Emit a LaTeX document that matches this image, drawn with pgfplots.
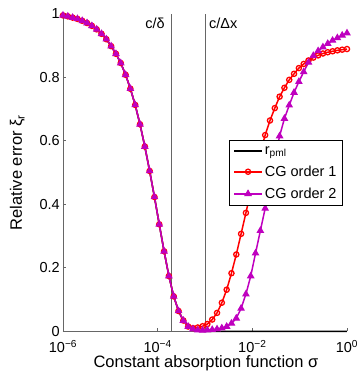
\documentclass[border=0pt]{standalone}
\usepackage{pgfplots}
\pgfplotsset{compat=1.18}
\usepackage{pgfplotstable}
\usepackage{fontspec}
\setmainfont{Liberation Sans}
\definecolor{mag}{rgb}{0.75,0,0.75}
\definecolor{axgray}{gray}{0.4}

\pgfplotstableread{
s r cg1 cg2
1.000e-6 0.995 0.995 0.995
1.264e-6 0.992 0.992 0.992
1.597e-6 0.988 0.988 0.988
2.019e-6 0.984 0.984 0.984
2.551e-6 0.978 0.978 0.978
3.225e-6 0.971 0.971 0.971
4.075e-6 0.962 0.962 0.962
5.151e-6 0.951 0.951 0.951
6.510e-6 0.937 0.937 0.937
8.228e-6 0.920 0.920 0.920
1.040e-5 0.898 0.898 0.898
1.314e-5 0.874 0.874 0.874
1.661e-5 0.845 0.845 0.845
2.099e-5 0.808 0.808 0.808
2.653e-5 0.764 0.764 0.764
3.353e-5 0.713 0.713 0.713
4.237e-5 0.652 0.652 0.652
5.356e-5 0.582 0.582 0.582
6.769e-5 0.505 0.505 0.505
8.555e-5 0.423 0.423 0.423
1.081e-4 0.337 0.337 0.337
1.367e-4 0.252 0.252 0.252
1.727e-4 0.174 0.174 0.174
2.183e-4 0.110 0.110 0.110
2.759e-4 0.064 0.064 0.064
3.487e-4 0.034 0.034 0.034
4.407e-4 0.015 0.015 0.015
5.570e-4 0.004 0.010 0.007
7.040e-4 0.001 0.012 0.004
8.896e-4 0.000 0.016 0.003
1.124e-3 0.000 0.023 0.004
1.421e-3 0.000 0.037 0.005
1.796e-3 0.000 0.058 0.007
2.270e-3 0.000 0.090 0.010
2.869e-3 0.000 0.131 0.015
3.626e-3 0.000 0.183 0.025
4.582e-3 0.000 0.242 0.041
5.791e-3 0.000 0.307 0.072
7.319e-3 0.000 0.373 0.117
9.250e-3 0.000 0.440 0.174
1.169e-2 0.000 0.503 0.246
1.478e-2 0.000 0.563 0.317
1.867e-2 0.000 0.618 0.387
2.360e-2 0.000 0.664 0.468
2.983e-2 0.000 0.703 0.545
3.770e-2 0.000 0.739 0.615
4.764e-2 0.000 0.767 0.670
6.021e-2 0.000 0.792 0.712
7.610e-2 0.000 0.811 0.752
9.618e-2 0.000 0.829 0.786
1.216e-1 0.000 0.842 0.817
1.536e-1 0.000 0.853 0.847
1.942e-1 0.000 0.862 0.868
2.454e-1 0.000 0.869 0.883
3.101e-1 0.000 0.875 0.895
3.920e-1 0.000 0.879 0.906
4.954e-1 0.000 0.882 0.916
6.261e-1 0.000 0.885 0.924
7.913e-1 0.000 0.887 0.932
1.000e0  0.000 0.889 0.939
}\data

\begin{document}
\begin{tikzpicture}[x=1pt,y=1pt]
\useasboundingbox (0,0) rectangle (360,372);
\begin{axis}[
  at={(63pt,40.7pt)}, anchor=south west,
  scale only axis, width=284pt, height=317.5pt,
  xmode=log, xmin=1e-6, xmax=1, ymin=0, ymax=1,
  clip=false,
  axis lines*=left,
  axis line style={draw=axgray, line width=0.9pt},
  xtick={1e-6,1e-4,1e-2,1},
  xticklabels={10\textsuperscript{−6},10\textsuperscript{−4},10\textsuperscript{−2},10\textsuperscript{0}},
  xminorticks=false,
  ytick={0,0.2,0.4,0.6,0.8,1},
  yticklabels={0,0.2,0.4,0.6,0.8,1},
  tick align=inside, major tick length=3.5pt,
  tick style={draw=axgray, line width=0.8pt},
  /pgf/number format/assume math mode=true,
  tick label style={font=\fontsize{14.5}{16}\selectfont},
  xticklabel style={anchor=base, yshift=-21.4pt, inner sep=0pt},
  yticklabel style={anchor=east, inner sep=0pt, xshift=-3pt},
  xlabel={Constant absorption function σ},
  ylabel={Relative error ξ\textsubscript{r}},
  label style={font=\fontsize{16.5}{18}\selectfont},
  xlabel style={at={(axis description cs:0.5035,-0.1146)}, anchor=base, inner sep=0pt},
  ylabel style={at={(axis description cs:-0.1444,0.5)}, anchor=base, inner sep=0pt},
  legend style={at={(axis description cs:0.986,0.6025)}, anchor=north east,
    draw=black, line width=0.9pt, fill=white, font=\fontsize{14.5}{16}\selectfont,
    cells={anchor=west}, inner xsep=4pt, inner ysep=4pt, row sep=6pt},
  legend image code/.code={\draw[line width=1.6pt, mark repeat=2, mark phase=2, #1] plot coordinates {(0pt,0pt) (14pt,0pt) (28pt,0pt)};},
]
\addplot[axgray, line width=0.7pt, forget plot] coordinates {(1.9e-4,0) (1.9e-4,1)};
\addplot[axgray, line width=0.7pt, forget plot] coordinates {(1e-3,0) (1e-3,1)};
\node[anchor=base east, inner sep=0pt, xshift=-6pt, font=\fontsize{14.5}{16}\selectfont] at (axis cs:1.9e-4,0.955) {c/δ};
\node[anchor=base west, inner sep=0pt, xshift=4pt, font=\fontsize{14.5}{16}\selectfont] at (axis cs:1e-3,0.955) {c/Δx};
\addplot[black, line width=1.5pt, no marks] table[x=s, y=r] {\data};
\addlegendentry{r\textsubscript{pml}}
\addplot[red, line width=1.5pt, mark=o, mark size=2.6pt, mark options={fill=none, solid, line width=1.3pt}] table[x=s, y=cg1] {\data};
\addlegendentry{CG order 1}
\addplot[mag, line width=1.5pt, mark=triangle*, mark size=3.5pt, mark options={fill=mag, solid, line width=1pt}] table[x=s, y=cg2] {\data};
\addlegendentry{CG order 2}
\end{axis}
\end{tikzpicture}
\end{document}
